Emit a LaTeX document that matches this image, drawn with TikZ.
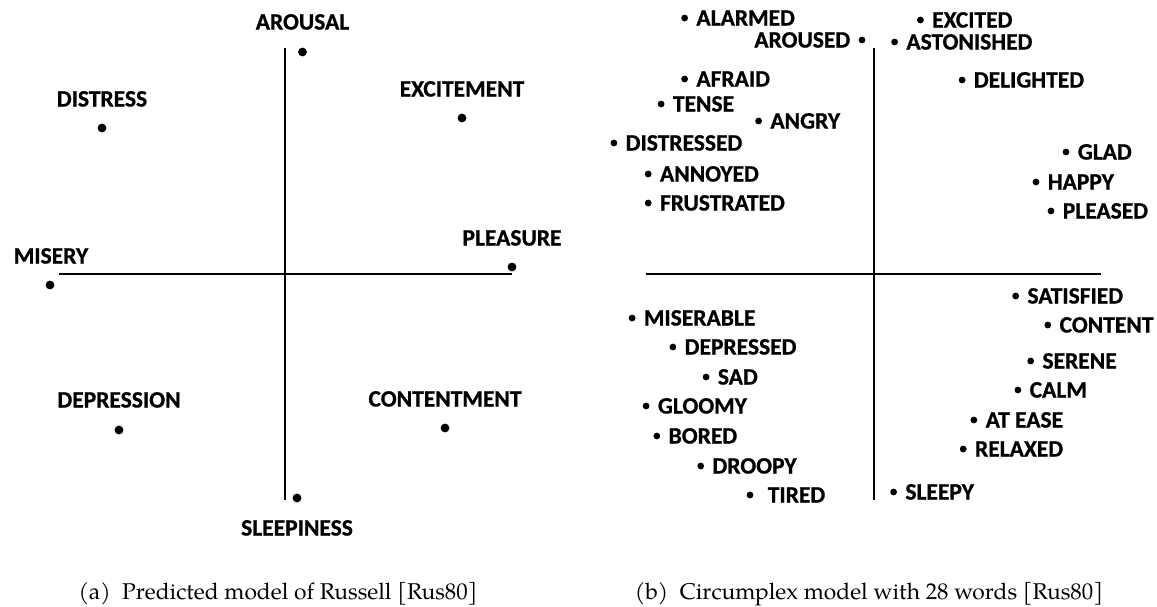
\documentclass[tikz,border=0pt]{standalone}
\usepackage{fontspec}
\setmainfont{TeX Gyre Pagella}
\newfontfamily\wordfont{Carlito}[BoldFeatures={FakeBold=0.8}]
\begin{document}
\begin{tikzpicture}[x=1pt,y=-1pt,
  axis/.style={line width=1.7pt},
  bigdot/.style={circle,fill,inner sep=0pt,minimum size=8.8pt},
  smalldot/.style={circle,fill,inner sep=0pt,minimum size=6.8pt},
  term/.style={font=\wordfont\bfseries\fontsize{23.5}{26}\selectfont,inner sep=0pt,text height=15.1pt,text depth=0pt},
  rlabel/.style={term,anchor=west,xshift=8pt},
  llabel/.style={term,anchor=east,xshift=-8pt},
  capt/.style={font=\fontsize{22.8}{26}\selectfont,anchor=base}]
\useasboundingbox[fill=white] (0,0) rectangle (1157,606);

% ---------- (a) predicted model ----------
\coordinate (aN) at (285,48);
\coordinate (aS) at (285,500);
\coordinate (aW) at (59,274);
\coordinate (aE) at (512,274);
\draw[axis] (aN) -- (aS);
\draw[axis] (aW) -- (aE);

\node[bigdot] (arousal) at (302.5,52) {};
\node[term] (arousalT) at (302.5,22) {AROUSAL};
\node[bigdot] (distress) at (102,128) {};
\node[term] (distressT) at (102,99) {DISTRESS};
\node[bigdot] (excitement) at (462,118) {};
\node[term] (excitementT) at (462,89) {EXCITEMENT};
\node[bigdot] (pleasure) at (512,267) {};
\node[term] (pleasureT) at (512,238) {PLEASURE};
\node[bigdot] (misery) at (50,285) {};
\node[term] (miseryT) at (51,256) {MISERY};
\node[bigdot] (depression) at (119,430) {};
\node[term] (depressionT) at (119,400) {DEPRESSION};
\node[bigdot] (contentment) at (445,428) {};
\node[term] (contentmentT) at (445,399) {CONTENTMENT};
\node[bigdot] (sleepiness) at (297,498) {};
\node[term] (sleepinessT) at (297,528) {SLEEPINESS};

\node[capt] (capA) at (278,599) {(a)\enspace Predicted model of Russell [Rus80]};

% ---------- (b) circumplex model ----------
\coordinate (bN) at (874,48);
\coordinate (bS) at (874,500);
\coordinate (bW) at (646,274);
\coordinate (bE) at (1101,274);
\draw[axis] (bN) -- (bS);
\draw[axis] (bW) -- (bE);

\node[smalldot] (alarmed) at (684.6,18) {};
\node[rlabel] at (alarmed.east) {ALARMED};
\node[smalldot] (aroused) at (862,40) {};
\node[llabel] at (aroused.west) {AROUSED};
\node[smalldot] (excited) at (920.4,20) {};
\node[rlabel] at (excited.east) {EXCITED};
\node[smalldot] (astonished) at (894.6,42) {};
\node[rlabel] at (astonished.east) {ASTONISHED};
\node[smalldot] (afraid) at (684.6,79) {};
\node[rlabel] at (afraid.east) {AFRAID};
\node[smalldot] (tense) at (661.1,104) {};
\node[rlabel] at (tense.east) {TENSE};
\node[smalldot] (angry) at (758.6,121) {};
\node[rlabel] at (angry.east) {ANGRY};
\node[smalldot] (distressed) at (613.9,143) {};
\node[rlabel] at (distressed.east) {DISTRESSED};
\node[smalldot] (annoyed) at (648.2,174) {};
\node[rlabel] at (annoyed.east) {ANNOYED};
\node[smalldot] (frustrated) at (648.2,203) {};
\node[rlabel] at (frustrated.east) {FRUSTRATED};
\node[smalldot] (delighted) at (962.1,80) {};
\node[rlabel] at (delighted.east) {DELIGHTED};
\node[smalldot] (glad) at (1066,152) {};
\node[rlabel] at (glad.east) {GLAD};
\node[smalldot] (happy) at (1036,182) {};
\node[rlabel] at (happy.east) {HAPPY};
\node[smalldot] (pleased) at (1051,211) {};
\node[rlabel] at (pleased.east) {PLEASED};

\node[smalldot] (satisfied) at (1015.7,296) {};
\node[rlabel] at (satisfied.east) {SATISFIED};
\node[smalldot] (content) at (1047.8,325) {};
\node[rlabel] at (content.east) {CONTENT};
\node[smalldot] (serene) at (1030.7,361) {};
\node[rlabel] at (serene.east) {SERENE};
\node[smalldot] (calm) at (1017.9,390) {};
\node[rlabel] at (calm.east) {CALM};
\node[smalldot] (atease) at (973.9,420) {};
\node[rlabel] at (atease.east) {AT EASE};
\node[smalldot] (relaxed) at (963.2,449) {};
\node[rlabel] at (relaxed.east) {RELAXED};
\node[smalldot] (sleepy) at (893.6,492) {};
\node[rlabel] at (sleepy.east) {SLEEPY};

\node[smalldot] (miserable) at (632.1,318) {};
\node[rlabel] at (miserable.east) {MISERABLE};
\node[smalldot] (depressed) at (672.9,347) {};
\node[rlabel] at (depressed.east) {DEPRESSED};
\node[smalldot] (sad) at (706.1,377) {};
\node[rlabel] at (sad.east) {SAD};
\node[smalldot] (gloomy) at (646.1,406) {};
\node[rlabel] at (gloomy.east) {GLOOMY};
\node[smalldot] (bored) at (656.8,436) {};
\node[rlabel] at (bored.east) {BORED};
\node[smalldot] (droopy) at (700.7,466) {};
\node[rlabel] at (droopy.east) {DROOPY};
\node[smalldot] (tired) at (750,495) {};
\node[rlabel,xshift=6pt] at (tired.east) {TIRED};

\node[capt] (capB) at (869,599) {(b)\enspace Circumplex model with 28 words [Rus80]};
\end{tikzpicture}
\end{document}
